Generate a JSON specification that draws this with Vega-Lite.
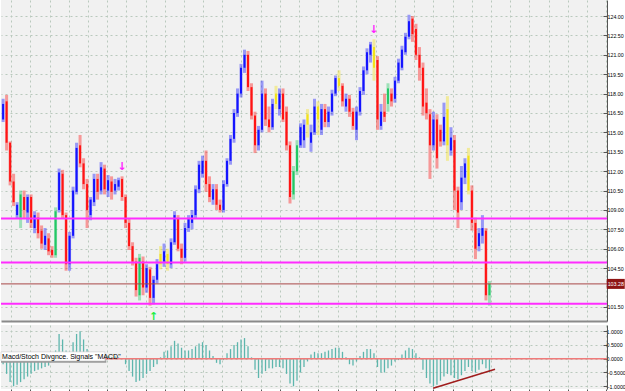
{
  "$schema": "https://vega.github.io/schema/vega-lite/v6.json",
  "padding": 0,
  "background": "white",
  "spacing": 3,
  "config": {
    "view": {"fill": "#f1f1f1", "stroke": null},
    "font": "Liberation Sans",
    "axis": {"gridColor": "#b9c9bd", "gridDash": [2, 3], "gridWidth": 1, "labelFontSize": 5.3, "labelColor": "#000000", "labelFont": "Liberation Sans", "domainColor": "#555555", "tickColor": "#555555", "title": null, "labelOverlap": false}
  },
  "datasets": {
    "bars": [
      {"i":0,"o":116.0,"h":117.6,"l":115.8,"c":117.2,"k":"up","m":-0.2},
      {"i":1,"o":117.4,"h":117.9,"l":113.6,"c":114.2,"k":"dn","m":-0.55},
      {"i":2,"o":114.2,"h":114.3,"l":110.9,"c":111.2,"k":"dn","m":-0.85},
      {"i":3,"o":111.2,"h":111.8,"l":109.3,"c":109.6,"k":"dn","m":-1.0},
      {"i":4,"o":108.6,"h":109.6,"l":108.3,"c":109.4,"k":"up","m":-0.95},
      {"i":5,"o":108.4,"h":110.5,"l":107.6,"c":110.2,"k":"gr","m":-0.85},
      {"i":6,"o":110.0,"h":110.5,"l":108.3,"c":109.0,"k":"dn","m":-0.75},
      {"i":7,"o":108.8,"h":110.2,"l":108.0,"c":110.0,"k":"up","m":-0.65},
      {"i":8,"o":110.0,"h":110.2,"l":107.6,"c":108.0,"k":"dn","m":-0.55},
      {"i":9,"o":107.6,"h":108.9,"l":107.2,"c":108.6,"k":"up","m":-0.45},
      {"i":10,"o":108.4,"h":108.8,"l":106.8,"c":107.2,"k":"dn","m":-0.4},
      {"i":11,"o":107.4,"h":107.8,"l":106.0,"c":106.4,"k":"dn","m":-0.35},
      {"i":12,"o":106.3,"h":107.6,"l":105.9,"c":107.0,"k":"up","m":-0.3},
      {"i":13,"o":106.8,"h":107.2,"l":105.5,"c":105.8,"k":"dn","m":-0.25},
      {"i":14,"o":105.9,"h":106.2,"l":105.3,"c":105.5,"k":"dn","m":-0.1},
      {"i":15,"o":105.5,"h":109.2,"l":105.3,"c":108.9,"k":"gr","m":0.3},
      {"i":16,"o":109.0,"h":112.2,"l":108.8,"c":111.9,"k":"up","m":0.9},
      {"i":17,"o":111.8,"h":112.1,"l":108.3,"c":108.6,"k":"dn","m":0.7},
      {"i":18,"o":108.6,"h":108.8,"l":104.3,"c":104.8,"k":"dn","m":0.3},
      {"i":19,"o":104.8,"h":107.3,"l":104.3,"c":107.0,"k":"up","m":0.25},
      {"i":20,"o":107.0,"h":110.8,"l":106.8,"c":110.5,"k":"up","m":0.6},
      {"i":21,"o":110.4,"h":114.2,"l":110.2,"c":113.8,"k":"up","m":0.9},
      {"i":22,"o":114.0,"h":114.8,"l":112.3,"c":112.6,"k":"dn","m":1.0},
      {"i":23,"o":112.6,"h":113.0,"l":110.6,"c":111.0,"k":"dn","m":0.7},
      {"i":24,"o":111.0,"h":111.4,"l":107.6,"c":109.0,"k":"dn","m":0.35},
      {"i":25,"o":108.6,"h":110.0,"l":108.2,"c":109.8,"k":"up","m":0.15},
      {"i":26,"o":109.6,"h":111.8,"l":109.3,"c":111.4,"k":"up","m":0.1},
      {"i":27,"o":111.4,"h":111.8,"l":109.8,"c":110.4,"k":"dn","m":0.1},
      {"i":28,"o":110.5,"h":112.7,"l":110.2,"c":112.3,"k":"up","m":0.12},
      {"i":29,"o":112.2,"h":112.5,"l":110.2,"c":110.6,"k":"dn","m":0.1},
      {"i":30,"o":110.5,"h":111.7,"l":110.0,"c":111.3,"k":"up","m":0.08},
      {"i":31,"o":111.2,"h":111.6,"l":109.8,"c":110.4,"k":"dn","m":0.05},
      {"i":32,"o":110.5,"h":111.4,"l":110.2,"c":111.0,"k":"up","m":0.08},
      {"i":33,"o":110.8,"h":111.5,"l":110.5,"c":111.3,"k":"up","m":0.05},
      {"i":34,"o":111.4,"h":111.6,"l":109.7,"c":110.0,"k":"dn","m":0.02},
      {"i":35,"o":110.0,"h":110.2,"l":107.6,"c":108.0,"k":"dn","m":-0.2},
      {"i":36,"o":108.0,"h":108.3,"l":105.9,"c":106.2,"k":"dn","m":-0.45},
      {"i":37,"o":106.2,"h":106.5,"l":104.7,"c":105.0,"k":"dn","m":-0.65},
      {"i":38,"o":105.0,"h":105.3,"l":102.3,"c":102.8,"k":"dn","m":-0.85},
      {"i":39,"o":102.4,"h":105.6,"l":102.0,"c":105.3,"k":"gr","m":-0.8},
      {"i":40,"o":105.0,"h":105.4,"l":102.4,"c":103.0,"k":"dn","m":-0.7},
      {"i":41,"o":103.0,"h":104.8,"l":102.6,"c":104.5,"k":"up","m":-0.55},
      {"i":42,"o":104.4,"h":104.6,"l":101.6,"c":102.2,"k":"dn","m":-0.45},
      {"i":43,"o":102.2,"h":103.9,"l":101.7,"c":103.6,"k":"up","m":-0.3},
      {"i":44,"o":103.6,"h":105.2,"l":103.3,"c":104.8,"k":"up","m":-0.2},
      {"i":45,"o":104.8,"h":106.2,"l":104.4,"c":105.6,"k":"yl","m":0.05},
      {"i":46,"o":105.0,"h":106.4,"l":104.6,"c":105.8,"k":"up","m":0.25},
      {"i":47,"o":105.6,"h":106.0,"l":104.3,"c":104.8,"k":"yl","m":0.3},
      {"i":48,"o":104.8,"h":106.8,"l":104.5,"c":106.5,"k":"up","m":0.45},
      {"i":49,"o":106.5,"h":108.9,"l":106.3,"c":108.6,"k":"up","m":0.65},
      {"i":50,"o":108.3,"h":108.6,"l":105.8,"c":106.0,"k":"dn","m":0.55},
      {"i":51,"o":106.0,"h":106.4,"l":104.8,"c":105.3,"k":"dn","m":0.4},
      {"i":52,"o":105.3,"h":108.0,"l":105.0,"c":107.6,"k":"up","m":0.3},
      {"i":53,"o":107.6,"h":108.6,"l":107.3,"c":108.3,"k":"up","m":0.3},
      {"i":54,"o":108.0,"h":109.0,"l":107.5,"c":108.6,"k":"up","m":0.35},
      {"i":55,"o":108.6,"h":110.9,"l":108.3,"c":110.6,"k":"up","m":0.45},
      {"i":56,"o":110.6,"h":112.8,"l":110.3,"c":112.5,"k":"up","m":0.55},
      {"i":57,"o":111.8,"h":113.2,"l":111.5,"c":112.8,"k":"up","m":0.6},
      {"i":58,"o":112.8,"h":113.6,"l":110.4,"c":111.0,"k":"dn","m":0.5},
      {"i":59,"o":111.0,"h":111.6,"l":109.6,"c":110.0,"k":"dn","m":0.3},
      {"i":60,"o":109.8,"h":111.0,"l":109.4,"c":110.6,"k":"up","m":0.1},
      {"i":61,"o":110.6,"h":111.0,"l":109.0,"c":109.4,"k":"dn","m":-0.15},
      {"i":62,"o":109.4,"h":109.8,"l":108.8,"c":109.0,"k":"dn","m":-0.2},
      {"i":63,"o":109.0,"h":111.3,"l":108.8,"c":111.0,"k":"up","m":-0.05},
      {"i":64,"o":111.0,"h":113.0,"l":110.8,"c":112.8,"k":"up","m":0.2},
      {"i":65,"o":112.8,"h":114.8,"l":112.5,"c":114.5,"k":"up","m":0.35},
      {"i":66,"o":114.5,"h":116.8,"l":114.2,"c":116.5,"k":"up","m":0.5},
      {"i":67,"o":116.5,"h":118.4,"l":116.2,"c":118.0,"k":"up","m":0.6},
      {"i":68,"o":118.0,"h":120.3,"l":117.7,"c":120.0,"k":"up","m":0.7},
      {"i":69,"o":120.0,"h":121.4,"l":119.6,"c":121.0,"k":"up","m":0.75},
      {"i":70,"o":121.0,"h":121.3,"l":118.2,"c":118.5,"k":"dn","m":0.45},
      {"i":71,"o":118.5,"h":118.8,"l":116.0,"c":116.3,"k":"dn","m":0.05},
      {"i":72,"o":116.3,"h":116.6,"l":113.4,"c":114.0,"k":"dn","m":-0.4},
      {"i":73,"o":114.0,"h":115.5,"l":113.6,"c":115.2,"k":"up","m":-0.7},
      {"i":74,"o":115.2,"h":119.0,"l":115.0,"c":118.0,"k":"up","m":-0.55},
      {"i":75,"o":118.0,"h":118.4,"l":115.5,"c":116.0,"k":"dn","m":-0.45},
      {"i":76,"o":116.0,"h":117.0,"l":115.0,"c":115.4,"k":"dn","m":-0.35},
      {"i":77,"o":115.4,"h":117.6,"l":115.2,"c":117.2,"k":"up","m":-0.35},
      {"i":78,"o":117.2,"h":118.6,"l":116.8,"c":118.0,"k":"yl","m":-0.3},
      {"i":79,"o":116.8,"h":118.4,"l":116.3,"c":118.0,"k":"up","m":-0.3},
      {"i":80,"o":118.0,"h":118.4,"l":115.8,"c":116.0,"k":"dn","m":-0.35},
      {"i":81,"o":116.6,"h":117.0,"l":113.6,"c":114.0,"k":"dn","m":-0.55},
      {"i":82,"o":114.0,"h":114.3,"l":109.5,"c":110.0,"k":"dn","m":-0.9},
      {"i":83,"o":110.2,"h":112.4,"l":109.8,"c":112.0,"k":"gr","m":-1.0},
      {"i":84,"o":112.0,"h":114.4,"l":111.7,"c":114.0,"k":"gr","m":-0.8},
      {"i":85,"o":114.0,"h":115.7,"l":113.8,"c":115.4,"k":"up","m":-0.5},
      {"i":86,"o":114.4,"h":116.0,"l":113.8,"c":115.6,"k":"up","m":-0.3},
      {"i":87,"o":115.6,"h":116.8,"l":114.6,"c":116.4,"k":"yl","m":-0.1},
      {"i":88,"o":114.2,"h":115.6,"l":113.5,"c":115.0,"k":"up","m":0.15},
      {"i":89,"o":115.0,"h":117.6,"l":114.8,"c":117.0,"k":"up","m":0.25},
      {"i":90,"o":117.0,"h":117.4,"l":114.8,"c":116.0,"k":"yl","m":0.2},
      {"i":91,"o":115.2,"h":117.2,"l":114.8,"c":116.8,"k":"up","m":0.2},
      {"i":92,"o":116.8,"h":117.2,"l":115.4,"c":115.8,"k":"dn","m":0.25},
      {"i":93,"o":115.8,"h":117.0,"l":115.4,"c":116.6,"k":"up","m":0.3},
      {"i":94,"o":116.6,"h":118.3,"l":116.3,"c":118.0,"k":"up","m":0.35},
      {"i":95,"o":118.0,"h":119.4,"l":117.8,"c":119.2,"k":"up","m":0.4},
      {"i":96,"o":119.2,"h":119.8,"l":118.2,"c":118.6,"k":"yl","m":0.4},
      {"i":97,"o":118.6,"h":118.8,"l":117.0,"c":117.4,"k":"dn","m":0.25},
      {"i":98,"o":117.0,"h":118.0,"l":116.6,"c":117.6,"k":"up","m":0.05},
      {"i":99,"o":117.6,"h":117.9,"l":116.2,"c":116.6,"k":"dn","m":-0.2},
      {"i":100,"o":116.6,"h":116.9,"l":115.2,"c":115.5,"k":"dn","m":-0.25},
      {"i":101,"o":115.2,"h":117.0,"l":114.4,"c":116.6,"k":"up","m":-0.1},
      {"i":102,"o":116.6,"h":118.5,"l":116.3,"c":118.2,"k":"up","m":0.1},
      {"i":103,"o":118.2,"h":120.1,"l":117.9,"c":119.8,"k":"up","m":0.25},
      {"i":104,"o":119.8,"h":121.5,"l":119.5,"c":121.2,"k":"up","m":0.35},
      {"i":105,"o":121.0,"h":122.0,"l":120.4,"c":121.8,"k":"up","m":0.35},
      {"i":106,"o":121.6,"h":122.2,"l":119.0,"c":120.0,"k":"yl","m":0.2},
      {"i":107,"o":120.6,"h":120.9,"l":115.2,"c":116.0,"k":"dn","m":-0.3},
      {"i":108,"o":115.5,"h":117.2,"l":115.2,"c":116.6,"k":"up","m":-0.5},
      {"i":109,"o":116.6,"h":118.0,"l":115.8,"c":116.2,"k":"dn","m":-0.5},
      {"i":110,"o":117.2,"h":118.8,"l":116.6,"c":118.4,"k":"gr","m":-0.35},
      {"i":111,"o":118.0,"h":118.4,"l":117.0,"c":117.4,"k":"dn","m":-0.25},
      {"i":112,"o":117.6,"h":119.3,"l":117.3,"c":119.0,"k":"up","m":-0.1},
      {"i":113,"o":119.0,"h":120.7,"l":118.8,"c":120.4,"k":"up","m":-0.05},
      {"i":114,"o":120.0,"h":121.7,"l":119.8,"c":121.4,"k":"up","m":0.15},
      {"i":115,"o":121.2,"h":122.7,"l":121.0,"c":122.4,"k":"up","m":0.3},
      {"i":116,"o":122.4,"h":124.1,"l":122.2,"c":123.6,"k":"up","m":0.4},
      {"i":117,"o":123.8,"h":124.0,"l":122.0,"c":122.6,"k":"dn","m":0.35},
      {"i":118,"o":123.0,"h":123.4,"l":120.6,"c":121.0,"k":"dn","m":0.2},
      {"i":119,"o":121.0,"h":121.6,"l":119.0,"c":120.0,"k":"dn","m":0.05},
      {"i":120,"o":120.0,"h":120.4,"l":116.3,"c":117.0,"k":"dn","m":-0.4},
      {"i":121,"o":117.3,"h":118.4,"l":116.0,"c":116.5,"k":"dn","m":-0.7},
      {"i":122,"o":116.4,"h":116.8,"l":111.4,"c":114.0,"k":"dn","m":-0.9},
      {"i":123,"o":114.0,"h":116.6,"l":113.6,"c":116.0,"k":"up","m":-1.0},
      {"i":124,"o":116.0,"h":116.4,"l":112.2,"c":113.0,"k":"dn","m":-0.95},
      {"i":125,"o":115.2,"h":115.6,"l":113.9,"c":114.3,"k":"dn","m":-0.8},
      {"i":126,"o":114.3,"h":117.3,"l":114.0,"c":116.2,"k":"up","m":-0.65},
      {"i":127,"o":116.8,"h":117.8,"l":112.8,"c":114.0,"k":"yl","m":-0.55},
      {"i":128,"o":113.6,"h":115.4,"l":113.2,"c":114.6,"k":"up","m":-0.6},
      {"i":129,"o":114.4,"h":114.8,"l":109.0,"c":110.5,"k":"dn","m":-0.7},
      {"i":130,"o":110.5,"h":110.8,"l":107.6,"c":108.8,"k":"dn","m":-0.75},
      {"i":131,"o":109.6,"h":112.4,"l":109.0,"c":111.5,"k":"up","m":-0.6},
      {"i":132,"o":111.5,"h":113.0,"l":111.0,"c":112.6,"k":"up","m":-0.45},
      {"i":133,"o":113.2,"h":113.8,"l":110.2,"c":110.5,"k":"yl","m":-0.3},
      {"i":134,"o":110.5,"h":110.9,"l":107.4,"c":108.0,"k":"dn","m":-0.45},
      {"i":135,"o":108.0,"h":108.4,"l":105.2,"c":106.0,"k":"dn","m":-0.5},
      {"i":136,"o":106.2,"h":107.6,"l":105.8,"c":107.2,"k":"up","m":-0.4},
      {"i":137,"o":107.0,"h":108.6,"l":106.4,"c":107.6,"k":"up","m":-0.2},
      {"i":138,"o":107.4,"h":107.6,"l":102.0,"c":102.4,"k":"dn","m":-0.35},
      {"i":139,"o":102.4,"h":103.5,"l":101.6,"c":103.28,"k":"gr","m":-0.5}
    ],
    "levels": [
      {"p":108.34,"kind":"level"},
      {"p":104.93,"kind":"level"},
      {"p":101.75,"kind":"level"},
      {"p":103.28,"kind":"last"}
    ],
    "signals": [
      {"i":34,"p":112.3,"dir":"sell"},
      {"i":106,"p":122.9,"dir":"sell"},
      {"i":43,"p":100.75,"dir":"buy"}
    ],
    "div": [
      {"i":122.9,"v":-1.07},
      {"i":140.6,"v":-0.38}
    ],
    "label": [
      {"name":"Macd/Stoch Divgnce.  Signals \"MACD\""}
    ]
  },
  "vconcat": [
    {
      "width": 606,
      "height": 321,
      "layer": [
        {
          "data": {"name": "bars"},
          "mark": {"type": "rule", "strokeWidth": 3, "opacity": 0.4},
          "encoding": {
            "x": {"field": "i", "type": "quantitative", "scale": {"domain": [-0.6, 172.6], "nice": false, "zero": false},
                  "axis": {"orient": "bottom", "values": [2.3,7.8,13.3,18.8,24.2,29.7,35.2,40.7,46.2,51.7,57.2,62.6,68.1,73.6,79.1,84.6,90.1,95.6,101.0,106.5,112.0,117.5,123.0,128.5,134.0,139.5,144.9,150.4,155.9,161.4,166.9,172.4], "tickCount": 40, "labels": false, "ticks": false, "domain": true, "domainColor": "#8a8a8a", "domainWidth": 2, "grid": true}},
            "y": {"field": "h", "type": "quantitative", "scale": {"domain": [100.41, 125.24], "nice": false, "zero": false},
                  "axis": {"orient": "right", "values": [101.5,104.5,106,107.5,109,110.5,112,113.5,115,116.5,118,119.5,121,122.5,124], "tickCount": 30, "format": ".2f", "grid": true, "tickSize": -4, "labelPadding": 4, "domain": true, "labelOverlap": false, "labelBound": false}},
            "y2": {"field": "l"},
            "color": {"field": "k", "type": "nominal", "scale": {"domain": ["up","dn","yl","gr"], "range": ["#1414ff","#ff1414","#f2e21c","#22c865"]}, "legend": null}
          }
        },
        {
          "data": {"name": "bars"},
          "mark": {"type": "rule", "strokeWidth": 2},
          "encoding": {
            "x": {"field": "i", "type": "quantitative"},
            "y": {"field": "o", "type": "quantitative"},
            "y2": {"field": "c"},
            "color": {"field": "k", "type": "nominal", "legend": null}
          }
        },
        {
          "data": {"name": "levels"},
          "transform": [{"filter": "datum.kind == 'level'"}],
          "mark": {"type": "rule", "color": "#ff2cff", "strokeWidth": 2},
          "encoding": {"y": {"field": "p", "type": "quantitative"}}
        },
        {
          "data": {"name": "levels"},
          "transform": [{"filter": "datum.kind == 'last'"}],
          "mark": {"type": "rule", "color": "#a84848", "strokeWidth": 1},
          "encoding": {"y": {"field": "p", "type": "quantitative"}}
        },
        {
          "data": {"name": "signals"},
          "transform": [{"filter": "datum.dir == 'sell'"}],
          "mark": {"type": "text", "text": "↓", "color": "#ff22ff", "fontSize": 11, "fontWeight": "bold", "font": "DejaVu Sans"},
          "encoding": {"x": {"field": "i", "type": "quantitative"}, "y": {"field": "p", "type": "quantitative"}}
        },
        {
          "data": {"name": "signals"},
          "transform": [{"filter": "datum.dir == 'buy'"}],
          "mark": {"type": "text", "text": "↑", "color": "#22ee44", "fontSize": 11, "fontWeight": "bold", "font": "DejaVu Sans"},
          "encoding": {"x": {"field": "i", "type": "quantitative"}, "y": {"field": "p", "type": "quantitative"}}
        },
        {
          "data": {"name": "bars"},
          "transform": [{"filter": "datum.i == 139"}],
          "mark": {"type": "rect", "color": "#8e1414", "height": 10, "width": 18},
          "encoding": {"x": {"datum": 175.1, "type": "quantitative"}, "y": {"field": "c", "type": "quantitative"}}
        },
        {
          "data": {"name": "bars"},
          "transform": [{"filter": "datum.i == 139"}],
          "mark": {"type": "text", "color": "#ffffff", "fontSize": 5.3, "align": "center", "font": "Liberation Sans"},
          "encoding": {"x": {"datum": 175.1, "type": "quantitative"}, "y": {"field": "c", "type": "quantitative"}, "text": {"field": "c", "type": "quantitative", "format": ".2f"}}
        }
      ]
    },
    {
      "width": 606,
      "height": 64,
      "layer": [
        {
          "data": {"name": "bars"},
          "mark": {"type": "rule", "strokeWidth": 1.3, "color": "#5db6ad"},
          "encoding": {
            "x": {"field": "i", "type": "quantitative", "scale": {"domain": [-0.6, 172.6], "nice": false, "zero": false},
                  "axis": {"orient": "bottom", "values": [2.3,7.8,13.3,18.8,24.2,29.7,35.2,40.7,46.2,51.7,57.2,62.6,68.1,73.6,79.1,84.6,90.1,95.6,101.0,106.5,112.0,117.5,123.0,128.5,134.0,139.5,144.9,150.4,155.9,161.4,166.9,172.4], "tickCount": 40, "labels": false, "ticks": true, "tickSize": 3, "domain": false, "grid": true}},
            "y": {"field": "m", "type": "quantitative", "scale": {"domain": [-1.1, 1.225], "nice": false, "zero": false},
                  "axis": {"orient": "right", "values": [1, 0.5, 0, -0.5, -1], "tickCount": 10, "format": ".4f", "grid": true, "tickSize": -4, "labelPadding": 3, "domain": true, "labelOverlap": false, "labelBound": false}},
            "y2": {"datum": 0}
          }
        },
        {
          "data": {"name": "label"},
          "mark": {"type": "rule", "color": "#f07a7a", "strokeWidth": 1.5},
          "encoding": {"y": {"datum": 0, "type": "quantitative"}}
        },
        {
          "data": {"name": "div"},
          "mark": {"type": "line", "color": "#a01c1c", "strokeWidth": 1.5},
          "encoding": {"x": {"field": "i", "type": "quantitative"}, "y": {"field": "v", "type": "quantitative"}}
        },
        {
          "data": {"name": "label"},
          "mark": {"type": "rect", "color": "#9a9a9a"},
          "encoding": {"x": {"datum": -0.6, "type": "quantitative"}, "x2": {"datum": 29.5}, "y": {"datum": -0.06, "type": "quantitative"}, "y2": {"datum": -0.15}}
        },
        {
          "data": {"name": "label"},
          "mark": {"type": "rect", "fill": "#ffffff", "stroke": "#c0c0c0", "strokeWidth": 0.5},
          "encoding": {"x": {"datum": -0.6, "type": "quantitative"}, "x2": {"datum": 29.1}, "y": {"datum": 0.25, "type": "quantitative"}, "y2": {"datum": -0.08}}
        },
        {
          "data": {"name": "label"},
          "mark": {"type": "text", "fontSize": 7, "align": "left", "baseline": "middle", "color": "#000000", "font": "Liberation Sans"},
          "encoding": {"x": {"datum": -0.3, "type": "quantitative"}, "y": {"datum": 0.08, "type": "quantitative"}, "text": {"field": "name", "type": "nominal"}}
        }
      ]
    }
  ]
}
